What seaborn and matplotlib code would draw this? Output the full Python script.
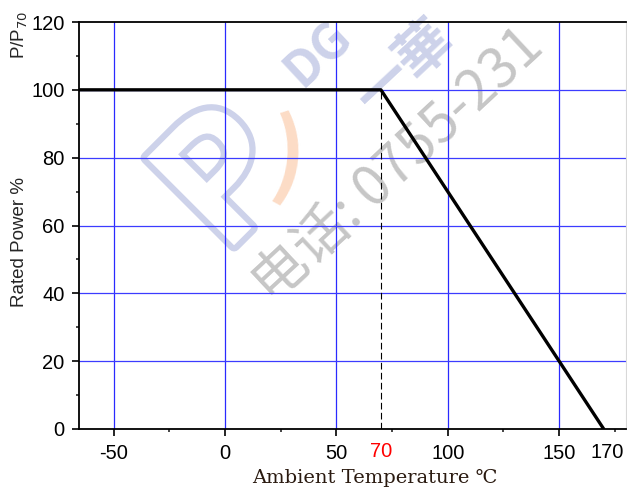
import matplotlib
matplotlib.use("Agg")
import matplotlib.pyplot as plt
import matplotlib.transforms as mtransforms
import matplotlib.patheffects as pe
from matplotlib.ticker import MultipleLocator
import seaborn as sns

# Derating curve: rated power (%) vs ambient temperature (deg C)
temperature = [-70, 70, 170]
rated_power = [100, 100, 0]
knee_temp = 70
max_temp = 170
x_major_ticks = [-50, 0, 50, 100, 150]
y_major_ticks = [0, 20, 40, 60, 80, 100, 120]

sns.set_style("white")
plt.rcParams['font.family'] = ['Liberation Sans', 'DejaVu Sans']
plt.rcParams['axes.unicode_minus'] = False

fig = plt.figure(figsize=(6.27, 4.88), dpi=100)
ax = fig.add_axes([79 / 627, 1 - 429 / 488, 547 / 627, (429 - 22) / 488])
ax.patch.set_alpha(0)

# grid in blue
for xv in x_major_ticks:
    ax.axvline(xv, color="#2a2aff", lw=0.9, zorder=1)
for yv in y_major_ticks[1:-1]:
    ax.axhline(yv, color="#3c3cff", lw=0.9, zorder=1)

# watermark (behind the axes)
cjk = ["Noto Sans CJK SC", "DejaVu Sans"]
logo_blue = "#cdd2ea"
fig.text(318 / 627, 1 - 54 / 488, "DG", rotation=43, fontsize=36,
         fontweight="bold", color=logo_blue, family=cjk,
         ha="center", va="center", zorder=-1)
fig.text(405 / 627, 1 - 68 / 488, "一華", rotation=43, fontsize=40,
         fontweight="bold", color=logo_blue, family=cjk,
         ha="center", va="center", zorder=-1)
fig.text(228 / 627, 1 - 182 / 488, "P", rotation=45, fontsize=120,
         fontweight="bold", color="white", family=cjk,
         ha="center", va="center", zorder=-1,
         path_effects=[pe.withStroke(linewidth=9, foreground=logo_blue)])
fig.text(287 / 627, 1 - 160 / 488, ")", rotation=-5, fontsize=66,
         fontweight="bold", color="#fcdcc6", family=cjk,
         ha="center", va="center", zorder=-1)
fig.text(398 / 627, 1 - 166 / 488, "电话: 0755-231", rotation=43,
         fontsize=40, color="#c6c6c6", family=cjk,
         ha="center", va="center", zorder=-1)

sns.lineplot(x=temperature, y=rated_power, color="black", lw=2.4, ax=ax, zorder=3)
ax.plot([knee_temp, knee_temp], [0, rated_power[1]], color="black", lw=0.8,
        ls=(0, (6, 3)), zorder=2)

ax.set_xlim(-65.5, 180)
ax.set_ylim(0, 120)
ax.set_xticks(x_major_ticks)
ax.set_yticks(y_major_ticks)
ax.xaxis.set_minor_locator(MultipleLocator(25))
ax.yaxis.set_minor_locator(MultipleLocator(10))
ax.tick_params(which="major", direction="out", length=5, width=1.2,
               labelsize=14.5, pad=5.5, color="black", labelcolor="black",
               bottom=True, left=True)
ax.tick_params(which="minor", direction="out", length=2.5, width=1.2,
               bottom=True, left=True)

# extra x labels at 70 (red) and 170
trans = mtransforms.blended_transform_factory(ax.transData, ax.transAxes)
ax.text(knee_temp, -0.056, str(knee_temp), transform=trans, color="red",
        fontsize=14.5, ha="center", va="center")
ax.text(max_temp + 1.5, -0.057, str(max_temp), transform=trans, color="black",
        fontsize=14.5, ha="center", va="center")

for side in ["left", "bottom", "top"]:
    ax.spines[side].set_color("black")
    ax.spines[side].set_linewidth(1.3)
ax.spines["right"].set_color("#d8d8d8")
ax.spines["right"].set_linewidth(0.8)

ax.set_xlabel("Ambient Temperature ℃", family=["DejaVu Serif", "Noto Sans CJK SC"],
              fontsize=14, color="#2a1a10")
ax.xaxis.set_label_coords((375 - 79) / 547, -(478 - 429) / 407)
ax.xaxis.label.set_va("center")

fig.text(20 / 627, 1 - 242 / 488, "Rated Power %", rotation=90, fontsize=13.5,
         ha="center", va="center")
fig.text(20 / 627, 1 - 35 / 488, r"P/P$_{70}$", rotation=90, fontsize=13.5,
         ha="center", va="center")

fig.savefig("out.png", dpi=100)
